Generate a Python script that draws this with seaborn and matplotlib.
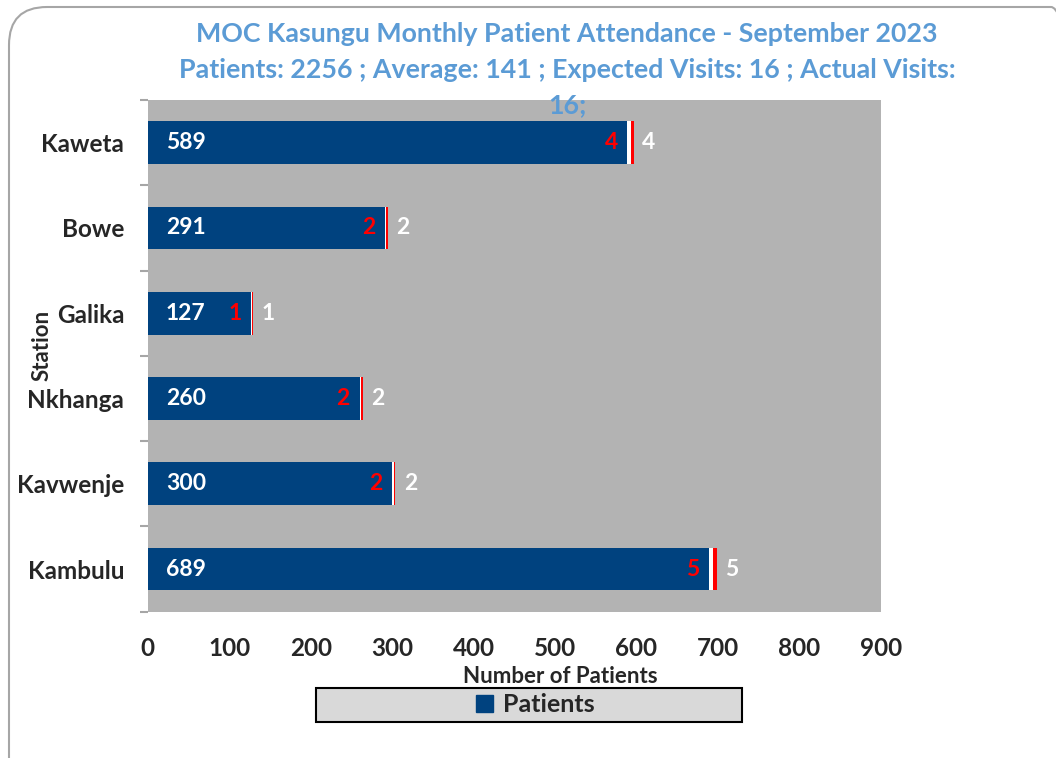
import numpy as np
import pandas as pd
import matplotlib.pyplot as plt
import seaborn as sns
from matplotlib.patches import FancyBboxPatch, Rectangle

stations = ['Kaweta', 'Bowe', 'Galika', 'Nkhanga', 'Kavwenje', 'Kambulu']
patients = [589, 291, 127, 260, 300, 689]
expected = [4, 2, 1, 2, 2, 5]
actual = [4, 2, 1, 2, 2, 5]

blue = '#00427F'
title_col = '#5B9BD5'

sns.set_theme(style='white')
plt.rcParams['font.family'] = ['Lato', 'DejaVu Sans']
plt.rcParams['font.weight'] = 'bold'

df = pd.DataFrame({'Station': stations, 'Patients': patients,
                   'Expected': expected, 'Actual': actual})
df['p_e'] = df['Patients'] + df['Expected']
df['total'] = df['p_e'] + df['Actual']

fig = plt.figure(figsize=(10.56, 7.58), dpi=100)
ax = fig.add_axes([0.140, 0.193, 0.694, 0.675])
ax.set_facecolor('#B3B3B3')

# stacked bars drawn back to front
for col, c in [('total', '#FF0000'), ('p_e', 'white'), ('Patients', blue)]:
    sns.barplot(data=df, y='Station', x=col, color=c, width=0.5, saturation=1,
                orient='h', linewidth=0, ax=ax)

for i, row in df.iterrows():
    ax.annotate(str(row['Patients']), (0, i), xytext=(13, 0), textcoords='offset points',
                ha='left', va='center', color='white', fontsize=16.5, fontweight='bold')
    ax.annotate(str(row['Actual']), (row['Patients'], i), xytext=(-7, 0),
                textcoords='offset points', ha='right', va='center', color='red',
                fontsize=16.5, fontweight='bold')
    ax.annotate(str(row['Expected']), (row['total'], i), xytext=(6, 0),
                textcoords='offset points', ha='left', va='center', color='white',
                fontsize=16.5, fontweight='bold')

ax.set_xlim(0, 900)
ax.set_ylim(5.5, -0.5)
ax.set_xticks(np.arange(0, 901, 100))
ax.tick_params(axis='x', length=0, pad=18, labelsize=17.5)
ax.tick_params(axis='y', which='major', length=0, pad=17, labelsize=17.5)
ax.set_yticks(np.arange(-0.5, 6, 1), minor=True)
ax.tick_params(axis='y', which='minor', length=6, color='#A6A6A6', width=1.5, left=True)
for lab in ax.get_xticklabels() + ax.get_yticklabels():
    lab.set_fontweight('bold')
for s in ax.spines.values():
    s.set_visible(False)

ax.set_xlabel('Number of Patients', fontsize=16, fontweight='bold', va='center')
ax.xaxis.set_label_coords(0.563, -0.127)
ax.set_ylabel('Station', fontsize=16, fontweight='bold', va='center')
ax.yaxis.set_label_coords(-0.144, 0.52)

avg = round(sum(patients) / sum(actual))
title_lines = ['MOC Kasungu Monthly Patient Attendance - September 2023',
               f'Patients: {sum(patients)} ; Average: {avg} ; '
               f'Expected Visits: {sum(expected)} ; Actual Visits:',
               f'{sum(actual)};']
for y, t in zip([0.955, 0.908, 0.861], title_lines):
    fig.text(0.537, y, t, ha='center', va='center', color=title_col,
             fontsize=19.3, fontweight='bold')

# legend box
fig.patches.append(Rectangle((0.299, 0.0475), 0.404, 0.0448, transform=fig.transFigure,
                             facecolor='#D9D9D9', edgecolor='black', linewidth=1.5))
handle = Rectangle((0, 0), 1, 1, color=blue)
fig.legend([handle], ['Patients'], loc='center', bbox_to_anchor=(0.507, 0.070),
           frameon=False, handlelength=0.7, handleheight=0.7,
           handletextpad=0.4, prop={'weight': 'bold', 'size': 18})

# rounded outer border
fig.patches.append(FancyBboxPatch((9, -40), 1080, 791, boxstyle='round,pad=0,rounding_size=38',
                                  transform=None, facecolor='none', edgecolor='#A6A6A6',
                                  linewidth=1.5))

fig.savefig('out.png', dpi=100)
